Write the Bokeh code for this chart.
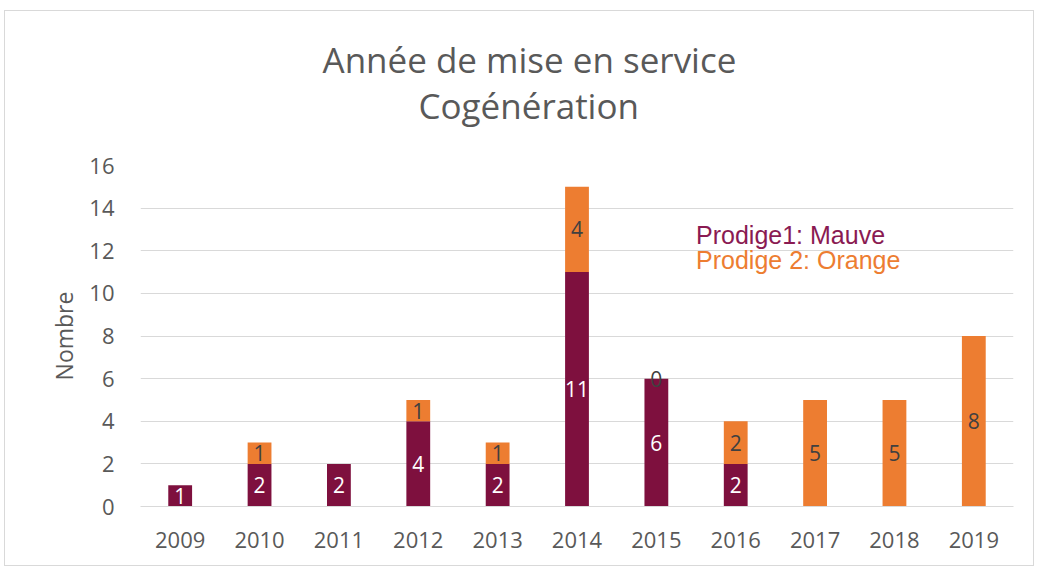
from bokeh.plotting import figure
from bokeh.models import ColumnDataSource, Label, Title, SingleIntervalTicker
from bokeh.core.properties import value
from bokeh.embed import file_html
from bokeh.resources import INLINE

years = ["2009", "2010", "2011", "2012", "2013", "2014", "2015", "2016", "2017", "2018", "2019"]
prodige1 = [1, 2, 2, 4, 2, 11, 6, 2, None, None, None]
prodige2 = [None, 1, None, 1, 1, 4, 0, 2, 5, 5, 8]
title_lines = ["Année de mise en service", "Cogénération"]
legend_lines = ["Prodige1:  Mauve", "Prodige 2: Orange"]

MAUVE = "#7E103E"
ORANGE = "#ED7D31"
GREY = "#595959"
FONT = "Open Sans"

p1 = [v or 0 for v in prodige1]
p2 = [v or 0 for v in prodige2]
src = ColumnDataSource(dict(year=years, p1=p1, p2=p2))

p = figure(x_range=years, y_range=(0, 16), width=1030, height=556,
           output_backend="svg", toolbar_location=None,
           min_border_left=135, min_border_right=22, min_border_top=154, min_border_bottom=61)
p.styles = {"border": "1px solid #d9d9d9", "margin-left": "4px", "margin-top": "10px"}
p.outline_line_color = None

p.vbar_stack(["p1", "p2"], x="year", width=0.3, color=[MAUVE, ORANGE], line_color=None, source=src)

# data labels
l1 = dict(x=[], y=[], t=[])
l2 = dict(x=[], y=[], t=[])
for yr, a, b in zip(years, prodige1, prodige2):
    base = a or 0
    if a is not None:
        l1["x"].append(yr); l1["y"].append(a / 2); l1["t"].append(str(a))
    if b is not None:
        l2["x"].append(yr); l2["y"].append(base + b / 2); l2["t"].append(str(b))
p.text(x="x", y="y", text="t", source=ColumnDataSource(l1), text_color="white",
       text_font=value(FONT), text_font_size="21px", text_align="center", text_baseline="middle")
p.text(x="x", y="y", text="t", source=ColumnDataSource(l2), text_color="#404040",
       text_font=value(FONT), text_font_size="21px", text_align="center", text_baseline="middle")

# legend-like texts
p.add_layout(Label(x=7.0, y=12.72, text=legend_lines[0], text_color="#8A1A52",
                   text_font="Liberation Sans", text_font_size="25px", text_baseline="middle"))
p.add_layout(Label(x=7.0, y=11.55, text=legend_lines[1], text_color=ORANGE,
                   text_font="Liberation Sans", text_font_size="25px", text_baseline="middle"))

# two-line title; spacer nearest to the plot
p.add_layout(Title(text=" ", text_font_size="1px", standoff=37), "above")
p.add_layout(Title(text=title_lines[1], align="left", offset=278, standoff=-6, text_font=FONT,
                   text_font_size="35px", text_font_style="normal", text_color=GREY), "above")
p.add_layout(Title(text=title_lines[0], align="left", offset=182, standoff=0, text_font=FONT,
                   text_font_size="35px", text_font_style="normal", text_color=GREY), "above")

p.yaxis.ticker = SingleIntervalTicker(interval=2)
p.yaxis.axis_line_color = None
p.yaxis.major_tick_line_color = None
p.yaxis.minor_tick_line_color = None
p.yaxis.major_label_standoff = 20
p.yaxis.axis_label = "Nombre"
p.yaxis.axis_label_text_font = FONT
p.yaxis.axis_label_text_font_style = "normal"
p.yaxis.axis_label_text_font_size = "23px"
p.yaxis.axis_label_text_color = GREY
p.yaxis.axis_label_standoff = 6

p.xaxis.axis_line_color = "#d9d9d9"
p.xaxis.major_tick_line_color = None
p.xaxis.major_label_standoff = 19

for ax in (p.xaxis, p.yaxis):
    ax.major_label_text_font = FONT
    ax.major_label_text_font_size = "22px"
    ax.major_label_text_color = GREY

p.xgrid.grid_line_color = None
p.ygrid.grid_line_color = "#d9d9d9"
p.ygrid.grid_line_width = 1

open("out.html", "w").write(file_html(p, INLINE))
